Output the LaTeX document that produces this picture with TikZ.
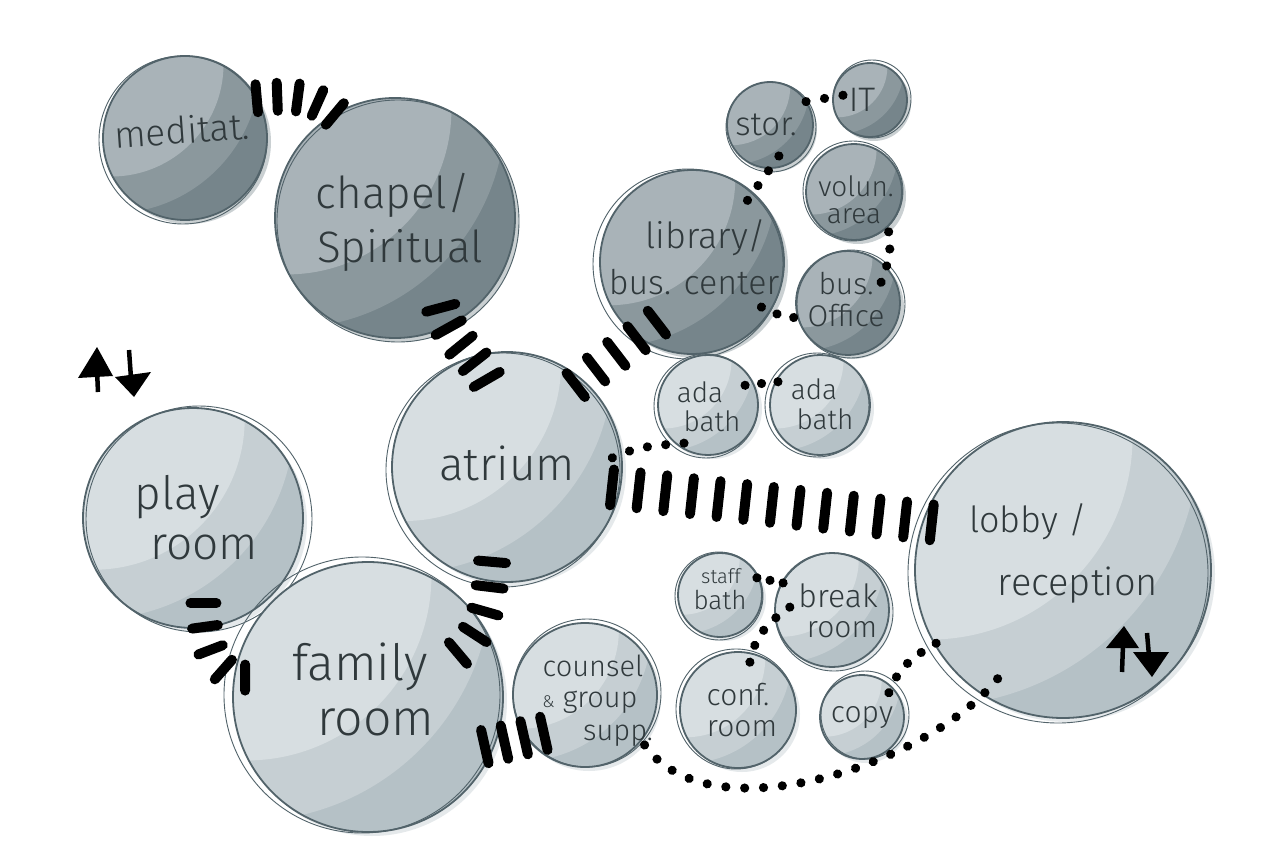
\documentclass[tikz,border=0pt]{standalone}
\usepackage{fontspec}
\setmainfont{Fira Sans}[UprightFont=* Light]
\usetikzlibrary{calc,decorations.markings}
\definecolor{DL}{HTML}{A9B3B8}
\definecolor{DM}{HTML}{8B989D}
\definecolor{DD}{HTML}{76858B}
\definecolor{LL}{HTML}{D7DEE1}
\definecolor{LM}{HTML}{C6CFD3}
\definecolor{LD}{HTML}{B5C1C6}
\definecolor{outc}{HTML}{52636A}
\definecolor{txtc}{HTML}{30393C}
\newcommand\myfs[1]{\fontsize{#1}{#1}\selectfont}
\newcommand\bub[8]{%
  \node[circle, inner sep=0pt, outer sep=0pt, minimum size=2*#4pt] (#1) at (#2,#3) {};
  \fill[#5M, opacity=.45] ($(#1.center)+(4,4)$) circle[radius=#4pt];
  \begin{scope}
    \clip (#1.center) circle[radius=#4pt];
    \fill[#5D] (#1.center) circle[radius=#4pt];
    \fill[#5M] ($(#1.center)+(-0.9*#4,-0.9*#4)$) circle[radius=1.82*#4pt];
    \fill[#5L] ($(#1.center)+(-0.9*#4,-0.9*#4)$) circle[radius=1.37*#4pt];
  \end{scope}
  \draw[outl] (#1.center) circle[radius=#4pt];
  \draw[outl2] ($(#1.center)+(#6,#7)$) circle[radius=#4pt+#8pt];
}
\tikzset{
  outl/.style={draw=outc, line width=1.8pt},
  outl2/.style={draw=outc, line width=0.9pt},
  lbl/.style={text=txtc, inner sep=0pt},
  ladder/.style 2 args={postaction={decorate, decoration={markings,
     mark=between positions 0 and 1 step #1 with {\draw[line width=10pt, line cap=round, black] (0pt,-#2pt) -- (0pt,#2pt);}}}},
  dotrow/.style={postaction={decorate, decoration={markings,
     mark=between positions 0 and 1 step #1 with {\fill[black] (0pt,0pt) circle[radius=4.6pt];}}}},
}
\begin{document}
\begin{tikzpicture}[x=1pt,y=-1pt]
\useasboundingbox (0,0) rectangle (1275,845);
\fill[white] (0,0) rectangle (1275,845);
% bubbles
\bub{medit}{185}{138}{82}{D}{-2}{2}{2}
\bub{chapel}{395}{218}{120}{D}{3}{3}{1}
\bub{library}{692}{262}{92}{D}{-4}{2}{3}
\bub{stor}{770}{125}{43}{D}{1}{2}{2}
\bub{it}{870}{100}{37}{D}{2}{-1}{2}
\bub{volun}{854}{192}{48}{D}{-1}{-1}{2}
\bub{busoff}{848}{303}{52}{D}{3}{1}{2}
\bub{ada1}{708}{405}{50}{L}{-2}{1}{2}
\bub{ada2}{820}{405}{50}{L}{-3}{0}{2}
\bub{atrium}{507}{467}{115}{L}{-4}{3}{2}
\bub{play}{193}{518}{110}{L}{6}{1}{3}
\bub{family}{368}{697}{135}{L}{-6}{-2}{3}
\bub{counsel}{585}{695}{72}{L}{2}{-2}{2}
\bub{staff}{720}{595}{42}{L}{-1}{1}{2}
\bub{break}{832}{610}{57}{L}{2}{2}{2}
\bub{conf}{738}{710}{58}{L}{-2}{-1}{2}
\bub{copy}{862}{717}{42}{L}{3}{-2}{2}
\bub{lobby}{1063}{570}{148}{L}{-5}{3}{2}
% strong adjacencies
\path[ladder={0.2495}{14}] (medit.29) to[out=5,in=140] (chapel.120);
\path[ladder={0.2495}{15}] ($(chapel.center)!0.84!(chapel.-63)$) to[out=-75,in=120] ($(atrium.center)!0.78!(atrium.103)$);
\path[ladder={0.2495}{15}] ($(atrium.center)!0.93!(atrium.50)$) -- ($(library.center)!0.76!(library.240)$);
\path[ladder={0.0832}{18}] ($(atrium.center)!0.93!(atrium.-11)$) -- ($(lobby.center)!0.94!(lobby.160)$);
\path[ladder={0.2495}{14}] ($(atrium.center)!0.835!(atrium.-99)$) to[out=-95,in=40] ($(family.center)!0.74!(family.26)$);
\path[ladder={0.2495}{13}] ($(play.center)!0.78!(play.-83)$) to[out=-90,in=180] ($(family.center)!0.92!(family.171)$);
\path[ladder={0.3328}{17}] ($(family.center)!0.94!(family.-23)$) -- ($(counsel.center)!0.78!(counsel.223)$);
% weak adjacencies
\path[dotrow=0.499] (stor.33) -- ($(it.center)!0.74!(it.170)$);
\path[dotrow=0.3328] ($(stor.center)!0.75!(stor.-74)$) -- ($(library.center)!0.9!(library.48)$);
\path[dotrow=0.3328] ($(volun.center)!1.1!(volun.-49)$) to[out=-80,in=70] ($(busoff.center)!0.75!(busoff.32)$);
\path[dotrow=0.499] ($(library.center)!0.9!(library.-33)$) to[out=-30,in=170] ($(busoff.center)!1.08!(busoff.195)$);
\path[dotrow=0.499] ($(ada1.center)!0.84!(ada1.28)$) -- ($(ada2.center)!0.96!(ada2.151)$);
\path[dotrow=0.2495] ($(atrium.center)!0.92!(atrium.5)$) to[out=25,in=185] ($(ada1.center)!0.9!(ada1.238)$);
\path[dotrow=0.499] ($(staff.center)!0.97!(staff.25)$) -- ($(break.center)!0.98!(break.151)$);
\path[dotrow=0.2495] ($(conf.center)!0.85!(conf.76)$) to[out=80,in=215] ($(break.center)!0.74!(break.176)$);
\path[dotrow=0.2495] ($(lobby.center)!0.99!(lobby.210)$) to[out=210,in=70] ($(copy.center)!0.86!(copy.42)$);
\path[dotrow=0.04755] ($(counsel.center)!1.08!(counsel.-40)$) to[out=-55,in=231,looseness=0.8] ($(lobby.center)!0.855!(lobby.239)$);
% labels
\node[lbl,font=\myfs{37},rotate=4] (tmedit) at (182,130) {meditat.};
\node[lbl,font=\myfs{44}] (tchap1) at (393,195) {chapel/};
\node[lbl,font=\myfs{44}] (tchap2) at (400,250) {Spiritual};
\node[lbl,font=\myfs{36}] (tlib1) at (706,238) {library/};
\node[lbl,font=\myfs{34}] (tlib2) at (694,282) {bus. center};
\node[lbl,font=\myfs{33}] (tstor) at (766,125) {stor.};
\node[lbl,font=\myfs{34}] (tit) at (862,100) {IT};
\node[lbl,font=\myfs{28}] (tvol1) at (856,186) {volun.};
\node[lbl,font=\myfs{28}] (tvol2) at (854,216) {area};
\node[lbl,font=\myfs{30}] (tbo1) at (846,284) {bus.};
\node[lbl,font=\myfs{30}] (tbo2) at (846,316) {Office};
\node[lbl,font=\myfs{28}] (tada1a) at (700,392) {ada};
\node[lbl,font=\myfs{28}] (tada1b) at (712,421) {bath};
\node[lbl,font=\myfs{28}] (tada2a) at (814,389) {ada};
\node[lbl,font=\myfs{28}] (tada2b) at (825,419) {bath};
\node[lbl,font=\myfs{46}] (tatr) at (507,463) {atrium};
\node[lbl,font=\myfs{46}] (tplay1) at (177,497) {play};
\node[lbl,font=\myfs{46}] (tplay2) at (204,547) {room};
\node[lbl,font=\myfs{50}] (tfam1) at (360,667) {family};
\node[lbl,font=\myfs{50}] (tfam2) at (376,722) {room};
\node[lbl,font=\myfs{29}] (tcou1) at (593,666) {counsel};
\node[lbl,font=\myfs{29}] (tcou2) at (590,702) {{\myfs{17}\&} group};
\node[lbl,font=\myfs{29}] (tcou3) at (618,736) {supp.};
\node[lbl,font=\myfs{20}] (tsb1) at (721,576) {staff};
\node[lbl,font=\myfs{26}] (tsb2) at (720,600) {bath};
\node[lbl,font=\myfs{32}] (tbr1) at (838,596) {break};
\node[lbl,font=\myfs{30}] (tbr2) at (842,630) {room};
\node[lbl,font=\myfs{30}] (tconf1) at (738,695) {conf.};
\node[lbl,font=\myfs{30}] (tconf2) at (742,729) {room};
\node[lbl,font=\myfs{30}] (tcopy) at (862,718) {copy};
\node[lbl,font=\myfs{36}] (tlob1) at (1028,522) {lobby /};
\node[lbl,font=\myfs{38}] (tlob2) at (1078,585) {reception};
% vertical circulation symbols
\fill[black] (78,378) -- (97,347) -- (113,376) -- cycle;
\draw[black, line width=4.5pt] (97,370) -- (98,392);
\draw[black, line width=4.5pt] (129,350) -- (131,378);
\fill[black] (115,377) -- (151,372) -- (134,397) -- cycle;
\fill[black] (1106,648) -- (1124,626) -- (1139,648) -- cycle;
\draw[black, line width=4.5pt] (1123,645) -- (1122,672);
\draw[black, line width=4.5pt] (1147,633) -- (1149,656);
\fill[black] (1133,652) -- (1169,652) -- (1152,677) -- cycle;
\end{tikzpicture}
\end{document}
